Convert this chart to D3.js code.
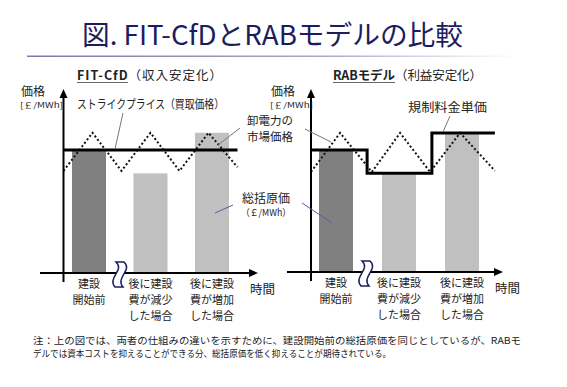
<!DOCTYPE html>
<html><head><meta charset="utf-8">
<script src="https://cdn.jsdelivr.net/npm/d3@7"></script>
<style>
html,body{margin:0;padding:0;background:#fff;}
svg{display:block;font-family:"Noto Sans CJK JP","Noto Sans",sans-serif;}
</style></head>
<body>
<svg id="c" width="567" height="387"></svg>
<script>
// ---- data ----
const titleText = "図. FIT-CfDとRABモデルの比較";
const categories = ["建設\n開始前", "後に建設\n費が減少\nした場合", "後に建設\n費が増加\nした場合"];
const fitCost = [100, 81, 114];          // 総括原価 (FIT-CfD)
const rabCost = [100, 80, 113];          // 総括原価 (RAB)
const strikePrice = [100, 100];          // ストライクプライス
const strikeTimes = [0, 6];
const rabTariff = [100, 81, 114];        // 規制料金単価
const rabTariffTimes = [0, 1.87, 4.03, 6.13];
const marketTimeFit = [0, 1, 2, 3, 4, 5, 6];
const marketPriceFit = [83, 114, 83, 114, 83, 114, 86];
const marketTimeRab = [0, 0.97, 2.03, 2.97, 3.97, 4.97, 6.13];
const marketPriceRab = [82, 114, 82, 114, 82, 114, 83];
const noteLines = [
  "注：上の図では、両者の仕組みの違いを示すために、建設開始前の総括原価を同じとしているが、RABモ",
  "デルでは資本コストを抑えることができる分、総括原価を低く抑えることが期待されている。"
];
const noteWidths = [488, 358];

const svg = d3.select("#c");
const ink = "#222";
const navy = "#1c1c5e";

// title
const defs = svg.append("defs");
const g1 = defs.append("linearGradient").attr("id","tl").attr("x1","0%").attr("x2","100%");
g1.append("stop").attr("offset","0%").attr("stop-color","#7a7aa8");
g1.append("stop").attr("offset","60%").attr("stop-color","#a8a8c8");
g1.append("stop").attr("offset","100%").attr("stop-color","#ffffff");
svg.append("text").attr("x",82).attr("y",45).attr("font-size",27).attr("fill",navy)
  .attr("textLength",381).attr("lengthAdjust","spacingAndGlyphs").text(titleText);
svg.append("rect").attr("x",27).attr("y",55.5).attr("width",490).attr("height",1.5).attr("fill","url(#tl)");

function arrowHeadUp(x,y){ return `M${x},${y} L${x-4},${y+9} L${x+4},${y+9} Z`; }
function arrowHeadRight(x,y){ return `M${x},${y} L${x-9},${y-4} L${x-9},${y+4} Z`; }
function breakPath(cx, top, h){
  const b = top+h;
  return `M${cx-4},${top} C${cx+5},${top+h*0.33} ${cx-13},${top+h*0.62} ${cx-5},${b}
          L${cx+3},${b} C${cx-5},${top+h*0.62} ${cx+13},${top+h*0.33} ${cx+4},${top} Z`;
}

function panel(opt){
  const g = svg.append("g");
  const x = d3.scaleLinear().domain([0,1]).range([opt.x0, opt.x0+opt.step]);
  const y = d3.scaleLinear().domain([0,100]).range([opt.yBase, 150]);
  const xc = d3.scalePoint().domain(categories).range(opt.catRange);
  const bw = 34;
  // bars
  g.selectAll("rect.bar").data(opt.cost).join("rect")
    .attr("x",(d,i)=>xc(categories[i])-bw/2).attr("width",bw)
    .attr("y",d=>y(d)).attr("height",d=>y(0)-y(d))
    .attr("fill",(d,i)=>i===0?"#808080":"#c0c0c0");
  // market price zigzag
  const mk = opt.mTimes.map((t,i)=>[x(t), y(opt.mPrice[i])]);
  g.append("path").attr("d",d3.line()(mk)).attr("fill","none").attr("stroke","#111")
    .attr("stroke-width",2).attr("stroke-dasharray","2,2.3");
  // price line
  g.append("path").attr("d",opt.priceLine(x,y)).attr("fill","none").attr("stroke","#000").attr("stroke-width",3);
  // axes
  g.append("line").attr("x1",opt.x0).attr("x2",opt.x0).attr("y1",opt.yBase+9).attr("y2",96)
    .attr("stroke","#000").attr("stroke-width",2);
  g.append("path").attr("d",arrowHeadUp(opt.x0,89)).attr("fill","#000");
  g.append("line").attr("x1",opt.xAxisStart).attr("x2",opt.xAxisEnd-6).attr("y1",y(0)).attr("y2",y(0))
    .attr("stroke","#000").attr("stroke-width",2);
  g.append("path").attr("d",arrowHeadRight(opt.xAxisEnd,y(0))).attr("fill","#000");
  // break mark
  g.append("path").attr("d",breakPath(opt.breakX, y(0)-11, 25)).attr("fill","#fff")
    .attr("stroke",navy).attr("stroke-width",1.5);
  // category labels
  categories.forEach((c,i)=>{
    const t = g.append("text").attr("text-anchor","middle").attr("font-size",11).attr("fill",ink);
    c.split("\n").forEach((ln,j)=>{
      t.append("tspan").attr("x",xc(c)).attr("y",opt.yBase+15+j*16).text(ln);
    });
  });
  g.append("text").attr("x",opt.xAxisEnd-8).attr("y",opt.yBase+21).attr("font-size",12.5).attr("fill",ink).text("時間");
  // y label
  g.append("text").attr("x",opt.yLabX).attr("y",95.5).attr("font-size",12).attr("fill",ink).text("価格");
  g.append("text").attr("x",opt.yLabX-1).attr("y",107.5).attr("font-size",7.5).attr("fill",ink)
    .attr("textLength",43).attr("lengthAdjust","spacingAndGlyphs").text("[￡/MWh]");
  // subtitle
  const st = g.append("text").attr("x",opt.subX).attr("y",80).attr("font-size",12.5).attr("fill",ink)
    .attr("textLength",opt.subLen).attr("lengthAdjust","spacing");
  st.append("tspan").attr("font-weight","bold").text(opt.subBold);
  st.append("tspan").text(opt.subRest);
  g.append("line").attr("x1",opt.subX).attr("x2",opt.subX+opt.subUL).attr("y1",82.5).attr("y2",82.5)
    .attr("stroke","#666").attr("stroke-width",1);
  return {x,y,xc};
}

panel({x0:63.5, step:29, yBase:273, catRange:[89,212], cost:fitCost,
  mTimes:marketTimeFit, mPrice:marketPriceFit,
  priceLine:(x,y)=>d3.line()(strikeTimes.map((t,i)=>[x(t),y(strikePrice[i])])),
  xAxisStart:40, xAxisEnd:258, breakX:120, yLabX:21,
  subX:77, subBold:"FIT-CfD", subRest:"（収入安定化）", subUL:51, subLen:145});

panel({x0:311, step:30, yBase:272, catRange:[336,462], cost:rabCost,
  mTimes:marketTimeRab, mPrice:marketPriceRab,
  priceLine:(x,y)=>{
    const pts=[];
    rabTariff.forEach((v,i)=>{ pts.push([x(rabTariffTimes[i]),y(v)]); pts.push([x(rabTariffTimes[i+1]),y(v)]); });
    return d3.line()(pts);
  },
  xAxisStart:287, xAxisEnd:503, breakX:366, yLabX:271,
  subX:333, subBold:"RABモデル", subRest:"（利益安定化）", subUL:62, subLen:149});

// annotations
function label(x,y,txt,size,len){
  const t = svg.append("text").attr("x",x).attr("y",y).attr("font-size",size).attr("fill",ink).text(txt);
  if(len) t.attr("textLength",len).attr("lengthAdjust","spacingAndGlyphs");
}
label(77,109,"ストライクプライス（買取価格）",12,147);
svg.append("line").attr("x1",123).attr("y1",113).attr("x2",115).attr("y2",149).attr("stroke","#777").attr("stroke-width",1);
label(247,125,"卸電力の",11.5);
label(247,141,"市場価格",11.5);
svg.append("line").attr("x1",240).attr("y1",128).attr("x2",218).attr("y2",145).attr("stroke","#777").attr("stroke-width",1);
svg.append("line").attr("x1",305).attr("y1",129).attr("x2",331).attr("y2",142).attr("stroke","#777").attr("stroke-width",1);
label(242,203,"総括原価",12);
label(241,216,"（￡/MWh）",9.5,50);
svg.append("line").attr("x1",233).attr("y1",205).attr("x2",215).attr("y2",213).attr("stroke","#5a5aa0").attr("stroke-width",1);
svg.append("line").attr("x1",302).attr("y1",203).attr("x2",332).attr("y2",223).attr("stroke","#5a5aa0").attr("stroke-width",1);
label(408,112,"規制料金単価",12.5,79);
svg.append("line").attr("x1",450).attr("y1",116).attr("x2",443).attr("y2",132).attr("stroke","#777").attr("stroke-width",1);

// note
noteLines.forEach((ln,i)=>{
  svg.append("text").attr("x",33).attr("y",343.5+i*13.5).attr("font-size",9.5).attr("fill",ink)
    .attr("textLength",noteWidths[i]).attr("lengthAdjust","spacingAndGlyphs").text(ln);
});
</script>
</body></html>
